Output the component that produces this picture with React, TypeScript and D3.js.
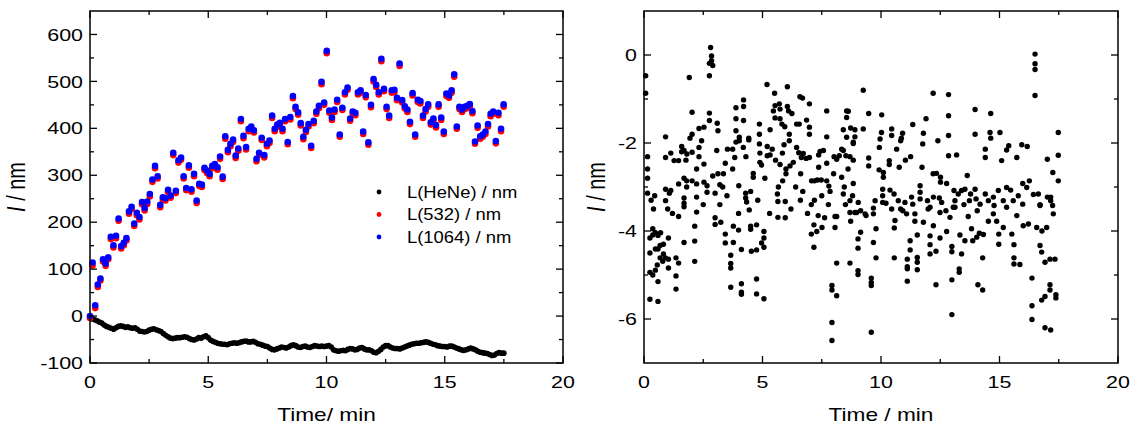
import React, { useEffect, useRef } from 'react';
import * as d3 from 'd3';

// HeNe length change, sampled every 0.1 min from t = 0
const heneStep = 0.1;
const heneValues = [
  -4, -6, -8, -10, -13, -15, -19, -22, -24, -26, -28,
  -25, -22, -21, -22, -24, -23, -25, -26, -25, -28,
  -32, -33, -34, -33, -30, -28, -27, -29, -31, -33,
  -37, -41, -44, -47, -48, -47, -46, -46, -45, -44,
  -45, -48, -50, -51, -49, -46, -47, -44, -42, -46,
  -51, -54, -56, -58, -59, -60, -60, -61, -59, -58,
  -57, -58, -57, -55, -54, -53, -55, -55, -54, -56,
  -59, -60, -62, -64, -65, -68, -71, -72, -70, -68,
  -66, -67, -68, -66, -63, -61, -63, -66, -67, -65,
  -64, -66, -67, -65, -63, -64, -65, -64, -65, -64,
  -63, -66, -72, -74, -75, -74, -73, -74, -71, -69,
  -70, -72, -71, -68, -67, -70, -72, -72, -74, -77,
  -78, -75, -71, -66, -63, -63, -66, -68, -69, -69,
  -70, -68, -66, -64, -62, -60, -59, -58, -58, -57,
  -56, -55, -56, -58, -60, -61, -63, -64, -65, -65,
  -66, -64, -64, -66, -68, -70, -72, -73, -72, -70,
  -68, -70, -72, -75, -77, -78, -79, -80, -82, -84,
  -83, -80, -78, -79, -79,
];

// 532 nm and 1064 nm channels, sampled every 0.11 min from t = 0
const laserStep = 0.11;
const l1064Values = [
  0, 114, 23, 67, 80, 121, 112, 125, 169, 151,
  171, 208, 149, 156, 166, 223, 233, 197, 220, 211,
  243, 230, 244, 260, 291, 320, 298, 237, 253, 251,
  269, 257, 348, 267, 332, 338, 298, 273, 321, 270,
  303, 246, 282, 280, 316, 310, 303, 320, 324, 317,
  340, 297, 383, 354, 367, 376, 342, 357, 420, 384,
  360, 399, 404, 396, 335, 348, 380, 343, 367, 374,
  427, 399, 408, 412, 399, 420, 371, 424, 469, 446,
  434, 411, 382, 397, 409, 363, 416, 436, 448, 499,
  455, 565, 438, 423, 440, 461, 387, 444, 477, 487,
  421, 436, 433, 477, 481, 393, 471, 370, 450, 505,
  493, 477, 548, 484, 446, 427, 481, 482, 465, 538,
  460, 447, 440, 414, 475, 387, 461, 458, 427, 441,
  451, 413, 421, 407, 451, 423, 393, 474, 470, 481,
  515, 404, 446, 440, 446, 448, 452, 437, 372, 406,
  383, 387, 393, 409, 431, 436, 373, 433, 399, 451,
];
const l532Values = [
  -4, 108, 17, 62, 76, 116, 107, 121, 164, 146,
  166, 203, 144, 151, 161, 218, 228, 192, 215, 206,
  238, 225, 239, 255, 286, 315, 293, 232, 248, 246,
  264, 252, 343, 262, 327, 333, 293, 268, 316, 265,
  298, 241, 277, 275, 311, 305, 298, 315, 319, 312,
  335, 292, 378, 349, 362, 371, 337, 352, 415, 379,
  355, 394, 399, 391, 330, 343, 375, 338, 362, 369,
  422, 394, 403, 407, 394, 415, 366, 419, 464, 441,
  429, 406, 377, 392, 404, 358, 411, 431, 443, 494,
  450, 560, 433, 418, 435, 456, 382, 439, 472, 482,
  416, 431, 428, 472, 476, 388, 466, 365, 445, 500,
  488, 472, 543, 479, 441, 422, 476, 477, 460, 533,
  455, 442, 435, 409, 470, 382, 456, 453, 422, 436,
  446, 408, 416, 402, 446, 418, 388, 469, 465, 476,
  510, 399, 441, 435, 441, 443, 447, 432, 367, 401,
  378, 382, 388, 404, 426, 431, 368, 428, 394, 446,
];

// right panel: [time, value]
const residualPoints: [number, number][] = [
  [0.07,-0.47],[0.07,-0.87],[0.15,-2.31],[0.15,-2.59],[0.15,-2.8],[0.15,-3.14],
  [0.25,-4.16],[0.25,-4.5],[0.25,-4.94],[0.25,-5.55],[0.3,-3.3],[0.37,-3.95],[0.37,-4.09],[0.37,-5.0],
  [0.4,-3.5],[0.45,-3.2],[0.48,-4.04],[0.48,-4.41],[0.48,-4.89],[0.59,-4.1],[0.59,-4.41],[0.59,-5.15],
  [0.59,-5.6],[0.56,-4.77],[0.68,-4.33],[0.68,-4.61],[0.7,-4.04],[0.79,-4.69],[0.82,-4.3],[0.82,-4.52],
  [0.9,-4.61],[0.91,-1.86],[0.91,-2.33],[0.91,-3.05],[0.91,-3.31],[1.0,-3.5],[1.03,-4.16],[1.03,-4.64],
  [1.03,-4.84],[1.07,-3.14],[1.13,-2.23],[1.13,-3.08],[1.2,-3.6],[1.27,-2.4],[1.35,-4.61],[1.35,-5.02],
  [1.35,-5.32],[1.46,-2.4],[1.46,-2.93],[1.46,-3.67],[1.46,-4.73],[1.59,-2.08],[1.59,-2.2],[1.69,-2.17],
  [1.69,-2.8],[1.69,-3.25],[1.69,-3.37],[1.69,-3.45],[1.69,-4.26],[1.77,-2.39],[1.81,-2.25],[1.8,-2.86],
  [1.8,-3.0],[1.91,-0.51],[1.94,-1.89],[2.03,-1.3],[2.03,-1.8],[2.03,-2.21],[2.03,-2.86],[2.14,-3.89],
  [2.14,-4.23],[2.14,-4.69],[2.22,-2.59],[2.22,-2.93],[2.22,-3.23],[2.22,-3.57],[2.32,-1.67],[2.32,-2.1],
  [2.32,-2.31],[2.43,-1.95],[2.5,-3.4],[2.53,-1.64],[2.53,-2.48],[2.53,-2.89],[2.66,-2.97],[2.66,-3.12],
  [2.76,-0.19],[2.76,-0.47],[2.76,-1.32],[2.76,-1.49],[2.81,0.17],[2.85,-0.02],[2.85,-0.13],[2.9,-0.24],
  [2.9,-2.75],[3.0,-3.14],[3.0,-3.7],[3.0,-3.85],[3.07,-2.17],[3.09,-1.55],[3.12,-1.72],[3.12,-2.7],
  [3.2,-2.95],[3.2,-3.4],[3.24,-3.8],[3.32,-3.0],[3.35,-2.7],[3.43,-2.46],[3.43,-4.07],[3.43,-4.27],
  [3.5,-3.2],[3.52,-2.14],[3.66,-4.55],[3.66,-4.74],[3.66,-4.84],[3.66,-5.28],[3.74,-2.14],[3.74,-2.59],
  [3.77,-3.89],[3.77,-4.26],[3.83,-2.33],[3.88,-1.2],[3.88,-1.45],[3.88,-1.72],[3.88,-1.98],[3.99,-3.6],
  [3.99,-3.98],[4.0,-2.97],[4.02,-1.87],[4.02,-1.95],[4.11,-4.42],[4.11,-5.2],[4.11,-5.39],[4.11,-5.44],
  [4.19,-2.1],[4.2,-1.02],[4.2,-1.17],[4.2,-1.49],[4.29,-3.14],[4.29,-3.25],[4.3,-2.31],[4.33,-3.34],
  [4.42,-1.89],[4.42,-1.93],[4.44,-3.52],[4.5,-3.89],[4.5,-3.96],[4.5,-3.1],[4.53,-4.46],[4.61,-2.69],
  [4.61,-2.78],[4.75,-3.86],[4.75,-4.43],[4.75,-5.09],[4.75,-5.43],[4.8,-3.3],[4.87,-1.57],[4.87,-1.8],
  [4.87,-2.02],[4.89,-2.23],[4.89,-2.44],[4.96,-2.5],[4.96,-4.27],[5.06,-4.01],[5.06,-4.16],[5.06,-4.37],
  [5.06,-5.54],[5.1,-2.8],[5.19,-0.67],[5.2,-2.08],[5.2,-2.29],[5.3,-3.6],[5.32,-1.7],[5.32,-2.27],
  [5.41,-2.14],[5.46,-1.27],[5.51,-0.87],[5.53,-1.15],[5.53,-1.43],[5.55,-2.39],[5.63,-3.16],[5.65,-3.69],
  [5.65,-3.33],[5.67,-3.0],[5.71,-1.11],[5.74,-1.23],[5.74,-1.45],[5.74,-2.49],[5.82,-1.57],[5.84,-2.23],
  [5.85,-2.86],[5.91,-2.04],[5.94,-1.63],[5.96,-3.7],[5.96,-3.33],[5.99,-2.59],[5.99,-2.7],[6.05,-0.72],
  [6.05,-1.17],[6.1,-1.27],[6.13,-1.8],[6.13,-1.95],[6.16,-2.52],[6.2,-3.5],[6.24,-1.33],[6.3,-2.44],
  [6.4,-3.0],[6.44,-1.57],[6.44,-2.1],[6.53,-2.22],[6.55,-1.57],[6.58,-0.95],[6.6,-3.3],[6.61,-2.7],
  [6.64,-2.33],[6.69,-0.98],[6.7,-3.1],[6.72,-2.24],[6.84,-2.35],[6.86,-1.48],[6.9,-3.6],[6.98,-1.11],
  [6.98,-1.64],[6.98,-1.8],[6.98,-2.33],[7.06,-3.4],[7.06,-4.07],[7.07,-2.86],[7.17,-3.86],[7.17,-4.37],
  [7.19,-2.86],[7.19,-3.3],[7.29,-4.01],[7.31,-2.84],[7.35,-3.65],[7.37,-2.27],[7.37,-2.55],[7.43,-2.19],
  [7.48,-2.84],[7.5,-3.2],[7.51,-3.92],[7.57,-2.17],[7.62,-3.7],[7.71,-1.27],[7.71,-1.86],[7.71,-2.46],
  [7.71,-2.86],[7.78,-3.4],[7.8,-2.98],[7.85,-3.1],[7.93,-5.24],[7.93,-5.34],[7.93,-6.08],[7.93,-6.49],
  [8.0,-2.7],[8.02,-2.31],[8.06,-3.67],[8.06,-3.92],[8.13,-2.37],[8.13,-3.67],[8.13,-4.73],[8.13,-5.47],
  [8.24,-2.29],[8.34,-2.14],[8.34,-2.78],[8.41,-1.7],[8.41,-2.17],[8.41,-3.16],[8.45,-3.0],[8.5,-3.4],
  [8.52,-2.29],[8.55,-1.27],[8.55,-1.42],[8.55,-1.87],[8.61,-2.59],[8.62,-1.28],[8.69,-2.31],[8.69,-3.31],
  [8.69,-3.58],[8.69,-4.73],[8.72,-1.66],[8.72,-3.78],[8.8,-3.2],[8.83,-1.98],[8.83,-2.01],[8.83,-2.39],
  [8.83,-2.92],[8.9,-1.7],[8.9,-1.86],[8.9,-3.58],[8.97,-3.58],[9.03,-4.18],[9.03,-4.39],[9.03,-4.9],
  [9.03,-4.99],[9.04,-3.35],[9.14,-3.54],[9.14,-4.03],[9.25,-0.8],[9.25,-1.68],[9.33,-3.61],[9.37,-3.65],
  [9.48,-1.33],[9.48,-2.34],[9.48,-2.52],[9.59,-5.07],[9.59,-5.17],[9.59,-5.24],[9.59,-6.3],[9.68,-3.48],
  [9.68,-3.61],[9.68,-4.26],[9.75,-3.31],[9.79,-3.95],[9.79,-4.61],[9.92,-2.61],[9.93,-2.1],[9.96,-1.91],
  [10.02,-1.76],[10.03,-1.36],[10.07,-3.05],[10.07,-3.2],[10.07,-3.35],[10.1,-2.67],[10.1,-2.78],[10.21,-3.37],
  [10.35,-2.4],[10.35,-2.49],[10.38,-3.07],[10.45,-1.68],[10.45,-1.83],[10.45,-3.5],[10.55,-3.16],[10.56,-3.93],
  [10.56,-4.61],[10.59,-3.76],[10.66,-2.14],[10.73,-3.31],[10.77,-2.55],[10.83,-1.95],[10.83,-3.5],[10.86,-1.89],
  [10.91,-1.78],[10.92,-3.54],[11.01,-3.35],[11.03,-2.39],[11.08,-3.61],[11.11,-4.64],[11.11,-4.81],[11.11,-4.86],
  [11.11,-5.14],[11.23,-4.22],[11.23,-4.43],[11.25,-2.31],[11.29,-3.23],[11.34,-1.58],[11.34,-3.39],[11.43,-3.61],
  [11.43,-3.78],[11.53,-4.09],[11.53,-4.6],[11.53,-4.71],[11.53,-4.88],[11.65,-2.97],[11.65,-3.12],[11.65,-3.27],
  [11.73,-2.55],[11.76,-2.02],[11.79,-1.78],[11.79,-3.8],[11.9,-1.45],[11.96,-3.31],[11.99,-3.5],[12.07,-3.46],
  [12.07,-4.11],[12.07,-4.31],[12.07,-4.52],[12.2,-0.87],[12.2,-2.7],[12.21,-3.23],[12.21,-3.88],[12.32,-4.46],
  [12.32,-5.22],[12.34,-2.69],[12.4,-1.95],[12.46,-3.25],[12.49,-3.58],[12.49,-4.16],[12.51,-2.78],[12.51,-2.89],
  [12.56,-3.35],[12.74,-3.54],[12.77,-2.92],[12.77,-4.01],[12.85,-0.9],[12.85,-1.38],[12.85,-1.83],[12.85,-2.29],
  [12.91,-3.69],[12.99,-4.35],[12.99,-4.47],[12.99,-5.11],[12.99,-5.9],[13.05,-3.46],[13.08,-3.08],[13.12,-3.31],
  [13.12,-3.46],[13.19,-2.27],[13.26,-3.16],[13.3,-4.86],[13.3,-4.94],[13.33,-4.09],[13.4,-3.08],[13.4,-4.52],
  [13.5,-3.4],[13.54,-3.05],[13.54,-4.22],[13.64,-2.74],[13.68,-3.67],[13.73,-3.31],[13.78,-3.16],[13.82,-3.95],
  [13.87,-4.22],[13.97,-1.24],[13.97,-1.8],[13.97,-3.05],[14.01,-3.27],[14.04,-4.14],[14.06,-3.54],[14.09,-5.22],
  [14.15,-4.05],[14.18,-3.39],[14.29,-4.61],[14.29,-5.34],[14.32,-4.08],[14.4,-2.14],[14.4,-2.33],[14.4,-3.16],
  [14.53,-3.31],[14.53,-3.78],[14.6,-1.76],[14.63,-1.33],[14.63,-1.89],[14.74,-3.23],[14.74,-3.61],[14.77,-3.42],
  [14.88,-3.78],[14.95,-3.08],[14.97,-4.07],[14.97,-4.3],[15.02,-1.76],[15.09,-2.4],[15.16,-3.31],[15.16,-3.92],
  [15.3,-2.16],[15.3,-3.01],[15.3,-3.46],[15.39,-2.06],[15.47,-3.07],[15.52,-4.07],[15.58,-3.31],[15.61,-4.31],
  [15.61,-4.61],[15.61,-4.75],[15.73,-2.33],[15.73,-3.65],[15.79,-3.2],[15.86,-4.76],[15.94,-2.04],[15.98,-2.92],
  [15.98,-3.39],[16.0,-3.88],[16.15,-3.01],[16.17,-2.08],[16.22,-3.84],[16.26,-2.86],[16.37,-5.07],[16.37,-5.7],
  [16.37,-6.01],[16.43,-3.17],[16.5,0.02],[16.5,-0.2],[16.5,-0.33],[16.5,-0.92],[16.57,-3.92],[16.64,-3.16],
  [16.71,-3.4],[16.71,-3.42],[16.71,-4.33],[16.78,-4.48],[16.78,-5.57],[16.79,-4.0],[16.92,-4.71],[16.92,-5.49],
  [16.92,-6.2],[16.99,-3.92],[17.02,-2.37],[17.02,-3.23],[17.13,-4.64],[17.13,-5.22],[17.13,-5.34],[17.16,-3.23],
  [17.16,-3.31],[17.16,-6.25],[17.24,-3.42],[17.25,-2.67],[17.27,-3.61],[17.34,-4.64],[17.38,-5.45],[17.38,-5.52],
  [17.48,-1.76],[17.48,-2.28],[17.48,-2.86],
];

const xTicks = [0, 5, 10, 15, 20];
const xMinorTicks = [2.5, 7.5, 12.5, 17.5];
const leftYTicks = [-100, 0, 100, 200, 300, 400, 500, 600];
const leftYMinorTicks = [-50, 50, 150, 250, 350, 450, 550];
const rightYTicks = [0, -2, -4, -6];
const rightYMinorTicks = [-1, -3, -5];

const legendItems = [
  { label: 'L(HeNe) / nm', color: '#000000' },
  { label: 'L(532) / nm', color: '#ff0000' },
  { label: 'L(1064) / nm', color: '#0000ff' },
];

const FONT = '"Liberation Sans", Arial, Helvetica, sans-serif';
const STRETCH = 1.26; // text in the original is drawn wider than it is tall

function drawFrame(g: any, x: any, y: any, opts: any) {
  const [x0, x1] = x.range();
  const [y0, y1] = y.range(); // y0 bottom, y1 top
  const major = 7, minor = 4;

  g.append('rect')
    .attr('x', x0).attr('y', y1)
    .attr('width', x1 - x0).attr('height', y0 - y1)
    .attr('fill', 'none').attr('stroke', '#000').attr('stroke-width', 1.5);

  const ticks = g.append('g').attr('stroke', '#000').attr('stroke-width', 1.3);
  const xt = [...opts.xMajor.map((v: number) => [v, major]), ...opts.xMinor.map((v: number) => [v, minor])];
  xt.forEach(([v, len]: [number, number]) => {
    ticks.append('line').attr('x1', x(v)).attr('x2', x(v)).attr('y1', y0).attr('y2', y0 - len);
    ticks.append('line').attr('x1', x(v)).attr('x2', x(v)).attr('y1', y1).attr('y2', y1 + len);
  });
  const yt = [...opts.yMajor.map((v: number) => [v, major]), ...opts.yMinor.map((v: number) => [v, minor])];
  yt.forEach(([v, len]: [number, number]) => {
    ticks.append('line').attr('x1', x0).attr('x2', x0 + len).attr('y1', y(v)).attr('y2', y(v));
    ticks.append('line').attr('x1', x1).attr('x2', x1 - len).attr('y1', y(v)).attr('y2', y(v));
  });

  g.append('g').selectAll('text').data(opts.xMajor).join('text')
    .attr('transform', (d: number) => `translate(${x(d)},${y0 + 25}) scale(${STRETCH},1)`)
    .attr('text-anchor', 'middle')
    .attr('font-size', 17).attr('font-family', FONT)
    .text((d: number) => d);

  g.append('g').selectAll('text').data(opts.yMajor).join('text')
    .attr('transform', (d: number) => `translate(${x0 - 7},${y(d)}) scale(${STRETCH},1)`)
    .attr('dy', '0.36em')
    .attr('text-anchor', 'end')
    .attr('font-size', 17).attr('font-family', FONT)
    .text((d: number) => d);

  g.append('text')
    .attr('transform', `translate(${(x0 + x1) / 2},421) scale(${STRETCH},1)`)
    .attr('text-anchor', 'middle')
    .attr('font-size', 18).attr('font-family', FONT)
    .text(opts.xTitle);

  const yt2 = g.append('text')
    .attr('transform', `translate(${opts.yTitleX},${(y0 + y1) / 2}) scale(${STRETCH},1) rotate(-90)`)
    .attr('text-anchor', 'middle')
    .attr('font-size', 20).attr('font-family', FONT);
  yt2.append('tspan').attr('font-style', 'italic').text('I');
  yt2.append('tspan').text(' / nm');
}

const App = () => {
  const ref = useRef<SVGSVGElement>(null);

  useEffect(() => {
    if (!ref.current) return;
    const svg = d3.select(ref.current);
    svg.selectAll('*').remove();

    // left panel
    const xL = d3.scaleLinear().domain([0, 20]).range([90, 563]);
    const yL = d3.scaleLinear().domain([-100, 650]).range([363, 11]);
    const gL = svg.append('g');

    gL.append('g').selectAll('circle').data(heneValues).join('circle')
      .attr('cx', (_d, i) => xL(i * heneStep)).attr('cy', d => yL(d))
      .attr('r', 2.8).attr('fill', '#000');
    gL.append('g').selectAll('circle').data(l532Values).join('circle')
      .attr('cx', (_d, i) => xL(i * laserStep)).attr('cy', d => yL(d))
      .attr('r', 3.3).attr('fill', '#ff0000');
    gL.append('g').selectAll('circle').data(l1064Values).join('circle')
      .attr('cx', (_d, i) => xL(i * laserStep)).attr('cy', d => yL(d))
      .attr('r', 3.3).attr('fill', '#0000ff');

    drawFrame(gL, xL, yL, {
      xMajor: xTicks, xMinor: xMinorTicks,
      yMajor: leftYTicks, yMinor: leftYMinorTicks,
      xTitle: 'Time/ min', yTitleX: 25,
    });

    const leg = gL.append('g');
    legendItems.forEach((item, i) => {
      const ly = 192 + i * 22.5;
      leg.append('circle').attr('cx', 379).attr('cy', ly).attr('r', 2.4).attr('fill', item.color);
      leg.append('text')
        .attr('transform', `translate(407,${ly}) scale(1.15,1)`)
        .attr('dy', '0.36em')
        .attr('font-size', 16).attr('font-family', FONT).text(item.label);
    });

    // right panel
    const xR = d3.scaleLinear().domain([0, 20]).range([644, 1118]);
    const yR = d3.scaleLinear().domain([-7, 1]).range([363, 11]);
    const gR = svg.append('g');

    gR.append('g').selectAll('circle').data(residualPoints).join('circle')
      .attr('cx', d => xR(d[0])).attr('cy', d => yR(d[1]))
      .attr('r', 2.7).attr('fill', '#000');

    drawFrame(gR, xR, yR, {
      xMajor: xTicks, xMinor: xMinorTicks,
      yMajor: rightYTicks, yMinor: rightYMinorTicks,
      xTitle: 'Time / min', yTitleX: 605,
    });
  }, []);

  return (
    <svg ref={ref} width={1136} height={430}
      style={{ position: 'absolute', left: 0, top: 0, background: '#fff' }} />
  );
};

export default App;
